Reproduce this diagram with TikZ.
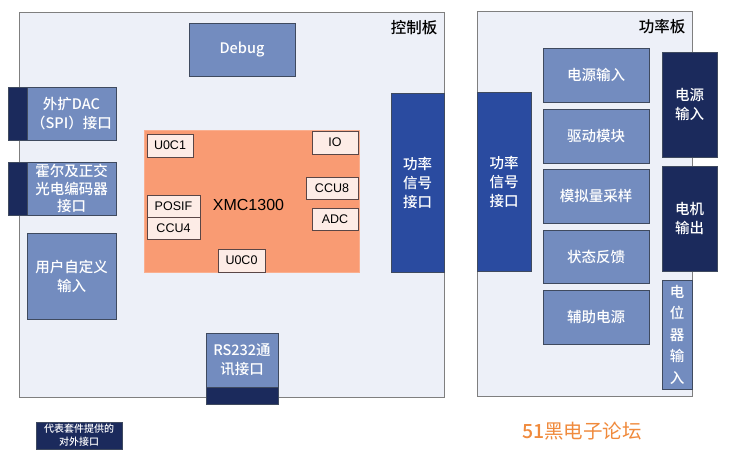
\documentclass[tikz,border=0pt]{standalone}
\usepackage{fontspec}
\setmainfont{Noto Sans CJK SC}[BoldFont={Noto Sans CJK SC Medium}]
\newfontfamily\latinsans{Liberation Sans}
\usetikzlibrary{fit}
\definecolor{boardbg}{HTML}{EDF0F8}
\definecolor{boardline}{HTML}{7F7F7F}
\definecolor{modfill}{HTML}{738CBF}
\definecolor{modline}{HTML}{3F4A5F}
\definecolor{navy}{HTML}{1B2A5C}
\definecolor{sigblue}{HTML}{2A4BA0}
\definecolor{mcu}{HTML}{F99B73}
\definecolor{chipfill}{HTML}{FDECE6}
\definecolor{chipline}{HTML}{5A4646}
\definecolor{logo}{HTML}{F08A3C}
\begin{document}
\begin{tikzpicture}[x=1pt,y=-1pt,
  board/.style={draw=boardline, fill=boardbg, line width=0.9pt, inner sep=0pt},
  mod/.style={draw=modline, fill=modfill, inner sep=0pt, line width=0.9pt},
  darkbox/.style={mod, fill=navy},
  sigbox/.style={mod, fill=sigblue},
  chip/.style={draw=chipline, fill=chipfill, inner sep=0pt, line width=0.7pt},
  wtext/.style={text=white, align=center, inner sep=0pt, font=\bfseries\fontsize{14.5}{19}\selectfont},
  ctext/.style={text=black, inner sep=0pt, font=\latinsans\fontsize{12.5}{14}\selectfont},
  title/.style={font=\bfseries\fontsize{15.5}{18}\selectfont, text=black}]
\useasboundingbox[fill=white] (0,0) rectangle (736,470);

% boards
\node[board, fit={(19,12)(444,397)}] (ctrl) {};
\node[board, fit={(477,11)(692,396)}] (pwr) {};
\node[title, anchor=east] (ctrlt) at (441,28) {控制板};
\node[title, anchor=east] (pwrt) at (689,27) {功率板};

% control board
\node[mod, fit={(189,23)(295,76)}] (debug) {};
\node[wtext] at (debug.center) {Debug};

\node[darkbox, fit={(8,87)(27,140)}] (dacd) {};
\node[mod, fit={(27,87)(116,140)}] (dac) {};
\node[wtext] at (dac.center) {外扩DAC\\（SPI）接口};
\node[darkbox, fit={(8,162)(27,215)}] (halld) {};
\node[mod, fit={(27,162)(116,215)}] (hall) {};
\node[wtext, font=\bfseries\fontsize{14.5}{17.5}\selectfont] at (hall.center) {霍尔及正交\\光电编码器\\接口};
\node[mod, fit={(27,233)(116,319)}] (user) {};
\node[wtext] at (user.center) {用户自定义\\输入};

\node[fill=mcu, draw=mcu!80!white, inner sep=0pt, fit={(144,130)(359,272)}] (mcu) {};
\node[font=\latinsans\fontsize{16}{18}\selectfont, inner sep=0pt] (mcut) at (248.5,205) {XMC1300};
\node[chip, fit={(147,134)(193,157)}] (u0c1) {};
\node[ctext] at (u0c1.center) {U0C1};
\node[chip, fit={(312,131)(358,154)}] (io) {};
\node[ctext] at (io.center) {IO};
\node[chip, fit={(306,177)(358,199)}] (ccu8) {};
\node[ctext] at (ccu8.center) {CCU8};
\node[chip, fit={(312,208)(358,230)}] (adc) {};
\node[ctext] at (adc.center) {ADC};
\node[chip, fit={(147,195)(200,217)}] (posif) {};
\node[ctext] at (posif.center) {POSIF};
\node[chip, fit={(147,217)(200,239)}] (ccu4) {};
\node[ctext] at (ccu4.center) {CCU4};
\node[chip, fit={(218,249)(265,272)}] (u0c0) {};
\node[ctext] at (u0c0.center) {U0C0};

\node[mod, fit={(206,333)(278,387)}] (rs) {};
\node[wtext] at (rs.center) {RS232通\\讯接口};
\node[darkbox, fit={(206,387)(278,404)}] (rsd) {};

\node[sigbox, fit={(391,93)(444,272)}] (csig) {};
\node[wtext] at (csig.center) {功率\\信号\\接口};

% legend
\node[darkbox, fit={(36,422)(122,449)}] (legend) {};
\node[wtext, font=\bfseries\fontsize{10}{13}\selectfont] at (legend.center) {代表套件提供的\\对外接口};

% power board
\node[sigbox, fit={(477,92)(531,271)}] (psig) {};
\node[wtext] at (psig.center) {功率\\信号\\接口};
\node[mod, fit={(543,48)(649,102)}] (m1) {};
\node[wtext] at (m1.center) {电源输入};
\node[mod, fit={(543,109)(649,163)}] (m2) {};
\node[wtext] at (m2.center) {驱动模块};
\node[mod, fit={(543,169)(649,223)}] (m3) {};
\node[wtext] at (m3.center) {模拟量采样};
\node[mod, fit={(543,230)(649,283)}] (m4) {};
\node[wtext] at (m4.center) {状态反馈};
\node[mod, fit={(543,290)(649,344)}] (m5) {};
\node[wtext] at (m5.center) {辅助电源};
\node[darkbox, fit={(662,52)(717,157)}] (pin) {};
\node[wtext] at (pin.center) {电源\\输入};
\node[darkbox, fit={(662,166)(717,271)}] (mout) {};
\node[wtext] at (mout.center) {电机\\输出};
\node[mod, fit={(662,280)(692,389)}] (pot) {};
\node[wtext, font=\bfseries\fontsize{14.5}{21.5}\selectfont] at (pot.center) {电\\位\\器\\输\\入};

% watermark
\node[text=logo, font=\fontsize{19.5}{22}\selectfont, anchor=west, inner sep=0pt] (wm) at (522,431) {\textbf{51}黑电子论坛};
\end{tikzpicture}
\end{document}
